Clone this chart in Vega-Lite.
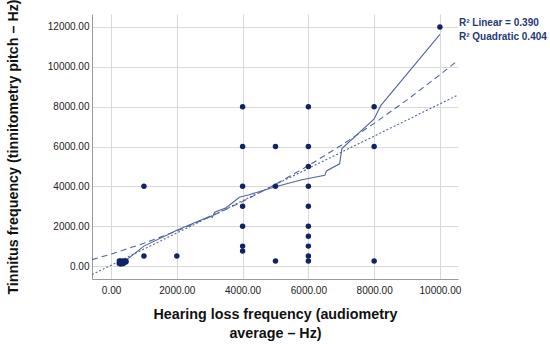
{
  "$schema": "https://vega.github.io/schema/vega-lite/v6.json",
  "width": 366,
  "height": 265,
  "autosize": {"type": "none"},
  "padding": {"left": 92, "top": 14, "right": 92, "bottom": 65},
  "background": "white",
  "config": {
    "view": {"stroke": null},
    "font": "Liberation Sans",
    "axis": {
      "labelFont": "Liberation Sans",
      "titleFont": "Liberation Sans",
      "labelFontSize": 10,
      "labelColor": "#222222",
      "gridColor": "#d9d9d9",
      "gridWidth": 1,
      "domainColor": "#9a9a9a",
      "ticks": false,
      "titleFontWeight": "bold",
      "titleFontSize": 14.3,
      "titleColor": "#111111"
    }
  },
  "datasets": {
    "points": [
      {"x": 250, "y": 125}, {"x": 250, "y": 250}, {"x": 300, "y": 250}, {"x": 375, "y": 250},
      {"x": 450, "y": 250}, {"x": 375, "y": 125}, {"x": 300, "y": 100}, {"x": 450, "y": 200},
      {"x": 1000, "y": 4000}, {"x": 1000, "y": 500}, {"x": 2000, "y": 500},
      {"x": 4000, "y": 8000}, {"x": 4000, "y": 6000}, {"x": 4000, "y": 4000}, {"x": 4000, "y": 3000},
      {"x": 4000, "y": 2000}, {"x": 4000, "y": 1000}, {"x": 4000, "y": 750},
      {"x": 5000, "y": 6000}, {"x": 5000, "y": 4000}, {"x": 5000, "y": 250},
      {"x": 6000, "y": 8000}, {"x": 6000, "y": 6000}, {"x": 6000, "y": 5000}, {"x": 6000, "y": 4000},
      {"x": 6000, "y": 3000}, {"x": 6000, "y": 2000}, {"x": 6000, "y": 1500}, {"x": 6000, "y": 1000},
      {"x": 6000, "y": 500}, {"x": 6000, "y": 250},
      {"x": 8000, "y": 8000}, {"x": 8000, "y": 6000}, {"x": 8000, "y": 250},
      {"x": 10000, "y": 12000}
    ],
    "quad": [
      {"x": -580, "y": 323}, {"x": 0, "y": 600}, {"x": 1000, "y": 1140}, {"x": 2000, "y": 1760},
      {"x": 3000, "y": 2460}, {"x": 4000, "y": 3240}, {"x": 5000, "y": 4100}, {"x": 6000, "y": 5040},
      {"x": 7000, "y": 6060}, {"x": 8000, "y": 7160}, {"x": 9000, "y": 8340}, {"x": 10000, "y": 9600},
      {"x": 10550, "y": 10327}
    ],
    "lin": [
      {"x": -580, "y": -430}, {"x": 10550, "y": 8586}
    ],
    "solid": [
      {"x": 250, "y": 150}, {"x": 500, "y": 350}, {"x": 1000, "y": 1000}, {"x": 2000, "y": 1800},
      {"x": 3000, "y": 2500}, {"x": 3080, "y": 2450}, {"x": 3150, "y": 2700}, {"x": 3500, "y": 2930},
      {"x": 3900, "y": 3450}, {"x": 4200, "y": 3580}, {"x": 5000, "y": 3980}, {"x": 5800, "y": 4330},
      {"x": 6500, "y": 4550}, {"x": 6550, "y": 4770}, {"x": 6950, "y": 5130}, {"x": 7020, "y": 5900},
      {"x": 8000, "y": 7380}, {"x": 8200, "y": 8050}, {"x": 10000, "y": 11630}
    ],
    "legend": [
      {"label": "R² Linear = 0.390"}, {"label": "R² Quadratic 0.404"}
    ]
  },
  "layer": [
    {
      "data": {"name": "quad"},
      "mark": {"type": "line", "color": "#50669e", "strokeWidth": 1.1, "strokeDash": [6, 4], "clip": true},
      "encoding": {
        "x": {
          "field": "x", "type": "quantitative",
          "scale": {"domain": [-580, 10550], "nice": false, "zero": false},
          "axis": {
            "values": [0, 2000, 4000, 6000, 8000, 10000],
            "format": ".2f",
            "labelPadding": 6,
            "title": ["Hearing loss frequency (audiometry", "average – Hz)"],
            "titleLineHeight": 19,
            "titlePadding": 12
          }
        },
        "y": {
          "field": "y", "type": "quantitative",
          "scale": {"domain": [-650, 12650], "nice": false, "zero": false},
          "axis": {
            "values": [0, 2000, 4000, 6000, 8000, 10000, 12000],
            "format": ".2f",
            "labelPadding": 3,
            "title": "Tinnitus frequency (tinnitometry pitch – Hz)",
            "titlePadding": 27
          }
        }
      }
    },
    {
      "data": {"name": "lin"},
      "mark": {"type": "line", "color": "#50669e", "strokeWidth": 1.1, "strokeDash": [2, 2], "clip": true},
      "encoding": {
        "x": {"field": "x", "type": "quantitative"},
        "y": {"field": "y", "type": "quantitative"}
      }
    },
    {
      "data": {"name": "solid"},
      "mark": {"type": "line", "color": "#50669e", "strokeWidth": 1.1, "clip": true},
      "encoding": {
        "x": {"field": "x", "type": "quantitative"},
        "y": {"field": "y", "type": "quantitative"}
      }
    },
    {
      "data": {"name": "points"},
      "mark": {"type": "point", "filled": true, "size": 30, "opacity": 1, "color": "#0f2466"},
      "encoding": {
        "x": {"field": "x", "type": "quantitative"},
        "y": {"field": "y", "type": "quantitative"}
      }
    },
    {
      "data": {"name": "legend"},
      "mark": {"type": "point", "opacity": 0},
      "encoding": {
        "color": {
          "field": "label", "type": "nominal", "sort": null,
          "scale": {"range": ["#1f3a7a", "#1f3a7a"]},
          "legend": {
            "orient": "right",
            "title": null,
            "offset": -13,
            "padding": 4,
            "symbolSize": 0,
            "symbolOpacity": 0,
            "symbolStrokeWidth": 0,
            "labelOffset": 0,
            "labelFontSize": 10,
            "labelFontWeight": "bold",
            "labelColor": "#1f3a7a",
            "labelFont": "Liberation Sans",
            "rowPadding": 3.5,
            "labelLimit": 200
          }
        }
      }
    }
  ]
}
